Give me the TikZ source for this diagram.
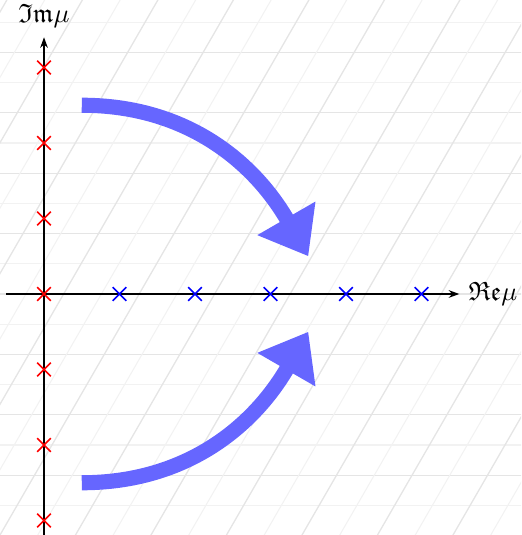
\documentclass[tikz,border=0pt]{standalone}
\usepackage{amssymb}
\usetikzlibrary{arrows.meta, shapes.misc}

\begin{document}
\begin{tikzpicture}[
        redpole/.style={cross out, draw=red, semithick, minimum size=1.6mm, inner sep=0pt},
        bluepole/.style={cross out, draw=blue, semithick, minimum size=1.6mm, inner sep=0pt},
        axis/.style={thin, draw=black, -{Stealth[length=4pt, width=2.9pt]}},
        flow/.style={line width=2mm, draw=blue!60, -{Triangle[length=5.8mm, width=8.5mm]}},
        majorline/.style={draw=black!10, line width=0.5pt},
        minorline/.style={draw=black!5, line width=0.4pt}
    ]

    \useasboundingbox (-0.583,-3.192) rectangle (6.318,3.894);
    \begin{scope}
        \clip (-0.583,-3.192) rectangle (6.318,3.894);
        \foreach \y in {-4,...,4} {
            \draw[majorline] (-1,0.8*\y) -- (7,0.8*\y);
            \draw[minorline] (-1,0.8*\y+0.4) -- (7,0.8*\y+0.4);
        }
        \foreach \x in {-3,...,8} {
            \draw[majorline] (\x+0.26,0) ++(240:4) -- ++(60:8.5);
            \draw[minorline] (\x+0.76,0) ++(240:4) -- ++(60:8.5);
        }
    \end{scope}

    \coordinate (xstart) at (-0.5,0);
    \coordinate (xend) at (5.5,0);
    \coordinate (ystart) at (0,-3.3);
    \coordinate (yend) at (0,3.4);
    \draw [axis] (xstart) -- (xend);
    \draw [axis] (ystart) -- (yend);
    \node (relabel) [right] at (xend) {$\mathfrak{Re}\mu$};
    \node (imlabel) [above] at (yend) {$\mathfrak{Im}\mu$};

    \foreach \k in {-3,...,3}
        \node (r\k) [redpole] at (0,\k) {};
    \foreach \k in {1,...,5}
        \node (b\k) [bluepole] at (\k,0) {};

    \coordinate (upstart) at (0.5,2.5);
    \coordinate (uptip) at (3.5,0.5);
    \coordinate (lowstart) at (0.5,-2.5);
    \coordinate (lowtip) at (3.5,-0.5);
    \draw [flow] (upstart) to[out=0, in=120] (uptip);
    \draw [flow] (lowstart) to[out=0, in=-120] (lowtip);
\end{tikzpicture}
\end{document}
